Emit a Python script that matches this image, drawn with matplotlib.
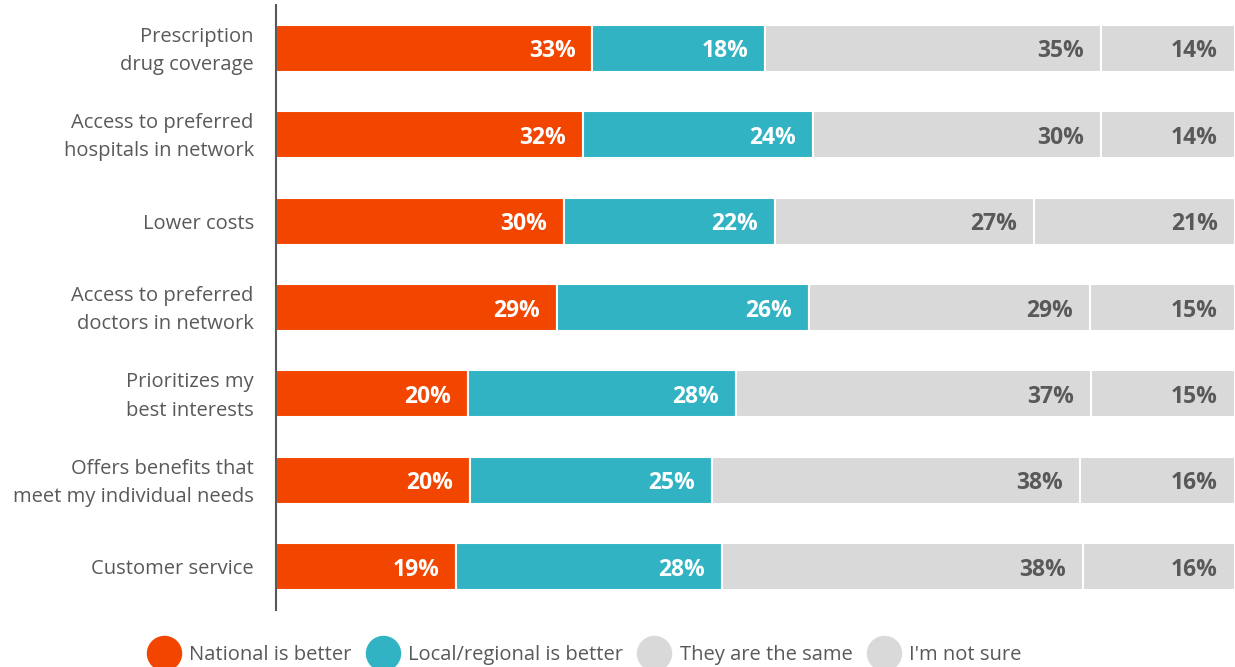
import matplotlib
matplotlib.use("Agg")
import matplotlib.pyplot as plt
import matplotlib.transforms as mtransforms
from matplotlib.lines import Line2D
import numpy as np

plt.rcParams['font.family'] = ['Open Sans', 'DejaVu Sans']

categories = [
    "Prescription\ndrug coverage",
    "Access to preferred\nhospitals in network",
    "Lower costs",
    "Access to preferred\ndoctors in network",
    "Prioritizes my\nbest interests",
    "Offers benefits that\nmeet my individual needs",
    "Customer service",
]
series_names = ["National is better", "Local/regional is better",
                "They are the same", "I'm not sure"]
national = [33, 32, 30, 29, 20, 20, 19]
local = [18, 24, 22, 26, 28, 25, 28]
same = [35, 30, 27, 29, 37, 38, 38]
not_sure = [14, 14, 21, 15, 15, 16, 16]

colors = ["#F24600", "#31B3C3", "#D9D9D9", "#D9D9D9"]
label_colors = ["white", "white", "#595959", "#595959"]

W, H = 1235, 667
fig = plt.figure(figsize=(W / 100, H / 100), dpi=100)
ax = fig.add_axes([276 / W, 1 - 610 / H, (W - 276) / W, 605 / H])

# 100% stacked bars: each row is scaled to its own total
data = np.array([national, local, same, not_sure], dtype=float)
totals = data.sum(axis=0)
shares = data / totals * 100

y = np.arange(len(categories))
left = np.zeros(len(categories))
for vals, share, col, lc, name in zip(data, shares, colors,
                                      label_colors, series_names):
    ax.barh(y, share, left=left, height=0.545, color=col,
            edgecolor="white", linewidth=1.5, label=name)
    for yi, l, s, v in zip(y, left, share, vals):
        ax.annotate(f"{int(v)}%", xy=(l + s, yi), xytext=(-17, -3),
                    textcoords="offset pixels",
                    ha="right", va="center", color=lc, fontsize=16.5,
                    fontweight="bold")
    left += share

ax.set_xlim(0, 100)
ax.set_ylim(len(categories) - 0.5, -0.5)
ax.set_yticks(y)
ax.set_yticklabels(categories, fontsize=14.5, color="#595959",
                   linespacing=1.55)
ax.tick_params(axis="y", length=0, pad=16)
# nudge two-line category labels up a little
lift = mtransforms.ScaledTranslation(0, 4 / 100, fig.dpi_scale_trans)
for lbl in ax.get_yticklabels():
    if "\n" in lbl.get_text():
        lbl.set_transform(lbl.get_transform() + lift)
ax.set_xticks([])
for s in ["top", "right", "bottom"]:
    ax.spines[s].set_visible(False)
ax.spines["left"].set_color("#595959")
ax.spines["left"].set_linewidth(1.5)

handles = [Line2D([], [], marker="o", linestyle="none", markersize=24.5,
                  markerfacecolor=c, markeredgecolor=c) for c in colors]
fig.legend(handles, series_names, loc="center", ncol=4,
           bbox_to_anchor=(0.473, 1 - 655 / H), frameon=False,
           fontsize=14.5, labelcolor="#595959", handlelength=1.7,
           handletextpad=0.4, columnspacing=0.7, borderaxespad=0)

fig.savefig("out.png", dpi=100)
